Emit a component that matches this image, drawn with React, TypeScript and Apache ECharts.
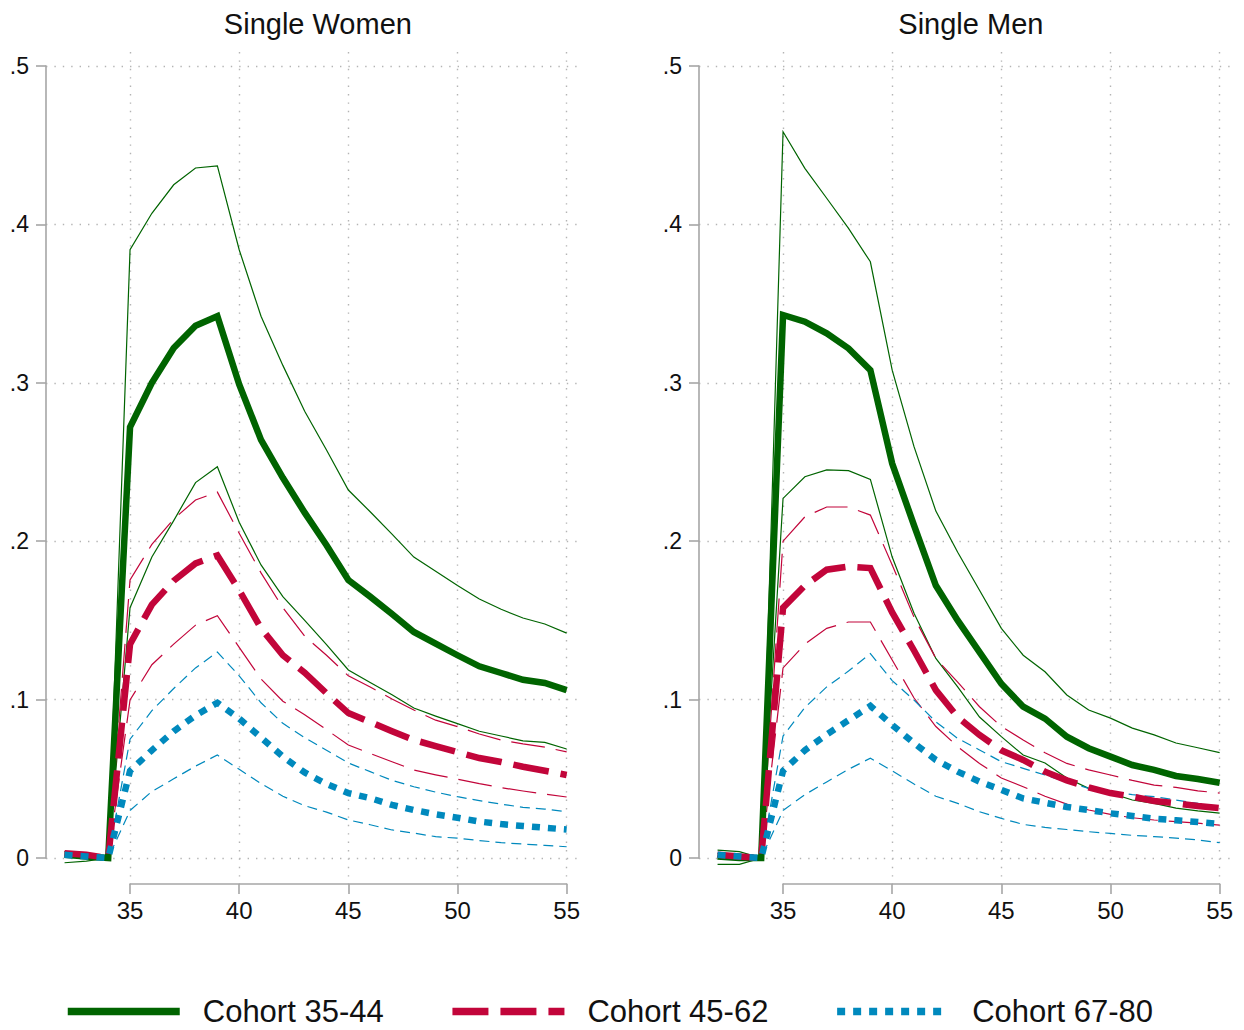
import React, { useEffect, useRef } from "react";
import * as echarts from "echarts";

const ages = [32, 33, 34, 35, 36, 37, 38, 39, 40, 41, 42, 43, 44, 45, 46, 47, 48, 49, 50, 51, 52, 53, 54, 55];
const panelTitles = ["Single Women", "Single Men"];
const cohortNames = ["Cohort 35-44", "Cohort 45-62", "Cohort 67-80"];

// Single Women
const gW = [0.002, 0.001, 0, 0.272, 0.300, 0.322, 0.336, 0.342, 0.299, 0.264, 0.240, 0.218, 0.1975, 0.1755, 0.165, 0.154, 0.1427, 0.1353, 0.128, 0.121, 0.1168, 0.1125, 0.1105, 0.106];
const gWhi = [0.004, 0.002, 0, 0.384, 0.407, 0.425, 0.4356, 0.437, 0.384, 0.342, 0.311, 0.282, 0.2576, 0.2323, 0.2186, 0.2045, 0.190, 0.181, 0.172, 0.1635, 0.157, 0.1515, 0.1477, 0.142];
const gWlo = [-0.003, -0.002, 0, 0.158, 0.19, 0.213, 0.237, 0.247, 0.212, 0.185, 0.165, 0.150, 0.1347, 0.1187, 0.1108, 0.103, 0.0947, 0.0896, 0.0848, 0.080, 0.077, 0.074, 0.073, 0.0688];
const rW = [0.003, 0.002, 0, 0.135, 0.160, 0.175, 0.186, 0.191, 0.169, 0.145, 0.128, 0.117, 0.104, 0.0915, 0.0858, 0.080, 0.0745, 0.0707, 0.0669, 0.0631, 0.0606, 0.0576, 0.0551, 0.0524];
const rWhi = [0.004, 0.003, 0, 0.1755, 0.198, 0.214, 0.226, 0.231, 0.205, 0.180, 0.158, 0.140, 0.128, 0.115, 0.108, 0.1004, 0.0934, 0.087, 0.0829, 0.0783, 0.0745, 0.072, 0.070, 0.067];
const rWlo = [0.002, 0.001, 0, 0.0998, 0.122, 0.135, 0.147, 0.153, 0.133, 0.113, 0.099, 0.0905, 0.081, 0.0713, 0.066, 0.0608, 0.0555, 0.0525, 0.0498, 0.0469, 0.0444, 0.0423, 0.0404, 0.0385];
const bW = [0.002, 0.001, 0, 0.055, 0.068, 0.080, 0.090, 0.098, 0.088, 0.076, 0.064, 0.054, 0.0467, 0.041, 0.0378, 0.0335, 0.0303, 0.0276, 0.0254, 0.023, 0.0214, 0.0202, 0.0191, 0.018];
const bWhi = [0.003, 0.002, 0, 0.075, 0.093, 0.107, 0.120, 0.130, 0.115, 0.098, 0.085, 0.076, 0.068, 0.060, 0.0545, 0.049, 0.045, 0.0416, 0.0387, 0.0362, 0.034, 0.032, 0.0309, 0.0292];
const bWlo = [0.001, 0.0, 0, 0.030, 0.042, 0.050, 0.058, 0.065, 0.056, 0.047, 0.039, 0.033, 0.029, 0.024, 0.021, 0.0177, 0.0157, 0.0135, 0.0125, 0.011, 0.0097, 0.0088, 0.008, 0.0071];

// Single Men
const gM = [0.001, 0.0, 0, 0.3428, 0.3386, 0.3312, 0.3217, 0.308, 0.249, 0.21, 0.172, 0.150, 0.130, 0.110, 0.0955, 0.088, 0.0766, 0.0693, 0.064, 0.0587, 0.0556, 0.0518, 0.0499, 0.0475];
const gMhi = [0.005, 0.004, 0, 0.4585, 0.4354, 0.4165, 0.3975, 0.3764, 0.308, 0.2597, 0.219, 0.193, 0.169, 0.145, 0.128, 0.1176, 0.1029, 0.0934, 0.0883, 0.082, 0.0777, 0.0726, 0.0696, 0.0665];
const gMlo = [-0.004, -0.004, 0, 0.227, 0.2407, 0.245, 0.2445, 0.239, 0.19, 0.1545, 0.126, 0.108, 0.089, 0.0766, 0.065, 0.060, 0.0505, 0.044, 0.041, 0.0366, 0.0345, 0.0315, 0.0297, 0.0283];
const rM = [0.002, 0.001, 0, 0.158, 0.172, 0.182, 0.184, 0.183, 0.155, 0.131, 0.106, 0.089, 0.0777, 0.068, 0.0619, 0.0545, 0.049, 0.0446, 0.041, 0.0387, 0.036, 0.0345, 0.0328, 0.0315];
const rMhi = [0.003, 0.002, 0, 0.200, 0.2154, 0.2216, 0.2216, 0.2165, 0.185, 0.152, 0.126, 0.111, 0.0955, 0.083, 0.0745, 0.0665, 0.0597, 0.0556, 0.0524, 0.049, 0.046, 0.0446, 0.0424, 0.041];
const rMlo = [0.001, 0.0, 0, 0.12, 0.135, 0.145, 0.149, 0.149, 0.125, 0.101, 0.083, 0.0703, 0.0597, 0.0505, 0.045, 0.039, 0.034, 0.0303, 0.0275, 0.0254, 0.024, 0.023, 0.022, 0.0208];
const bM = [0.002, 0.001, 0, 0.055, 0.068, 0.078, 0.087, 0.096, 0.084, 0.0725, 0.0619, 0.0545, 0.0482, 0.043, 0.0376, 0.0349, 0.0322, 0.0303, 0.0282, 0.0265, 0.0248, 0.0238, 0.0227, 0.0215];
const bMhi = [0.003, 0.002, 0, 0.077, 0.095, 0.108, 0.118, 0.129, 0.112, 0.0997, 0.086, 0.0755, 0.0682, 0.0608, 0.0566, 0.0524, 0.048, 0.044, 0.042, 0.040, 0.0387, 0.0366, 0.0345, 0.0324];
const bMlo = [0.001, 0.0, 0, 0.030, 0.040, 0.048, 0.056, 0.063, 0.055, 0.0467, 0.039, 0.0345, 0.0292, 0.025, 0.0212, 0.0193, 0.018, 0.0166, 0.0155, 0.0143, 0.0135, 0.0126, 0.0114, 0.0097];

const panels = [
  [[gW, gWhi, gWlo], [rW, rWhi, rWlo], [bW, bWhi, bWlo]],
  [[gM, gMhi, gMlo], [rM, rMhi, rMlo], [bM, bMhi, bMlo]],
];

const COLORS = ["#006400", "#c2053a", "#0089bd"];
const FONT = "'Liberation Sans', Arial, Helvetica, sans-serif";

export default function App() {
  const ref = useRef<HTMLDivElement>(null);

  useEffect(() => {
    document.body.style.margin = "0";
    if (!ref.current) return;
    const chart = echarts.init(ref.current, undefined, { renderer: "svg" });

    const X_MIN = 31.15, X_MAX = 55.6;
    const PX_YEAR = 21.83;
    const Y_MIN = -0.016, Y_MAX = 0.51;
    const PX_UNIT = 1584;
    const ZERO_Y = 858;
    const panelLeft = [46, 699];

    const grids: any[] = [];
    const xAxes: any[] = [];
    const yAxes: any[] = [];
    const series: any[] = [];
    const titles: any[] = [];

    const axisGray = "#a6a6a6";
    const gridLine = { show: true, lineStyle: { color: "#b4b4b4", width: 1.4, type: [1.4, 7] } };

    panelLeft.forEach((L, p) => {
      const dataW = (X_MAX - X_MIN) * PX_YEAR;
      const dataTop = ZERO_Y - Y_MAX * PX_UNIT;
      const dataH = (Y_MAX - Y_MIN) * PX_UNIT;
      const base = p * 3;
      // y-axis grid (0 .. .5)
      grids.push({ left: L, top: ZERO_Y - 0.5 * PX_UNIT, width: dataW, height: 0.5 * PX_UNIT, containLabel: false });
      xAxes.push({ gridIndex: base, type: "value", show: false, min: 0, max: 1 });
      yAxes.push({
        gridIndex: base, type: "value", min: 0, max: 0.5, interval: 0.1,
        axisLine: { show: true, lineStyle: { color: axisGray, width: 1.6 } },
        axisTick: { show: true, length: 10, lineStyle: { color: axisGray, width: 1.6 } },
        axisLabel: {
          margin: 17, fontSize: 23, color: "#111", fontFamily: FONT,
          formatter: (v: number) => {
            const s = Number(v.toFixed(1));
            return s === 0 ? "0" : String(s).replace(/^0/, "");
          },
        },
        splitLine: gridLine,
      });
      // x-axis grid (35 .. 55)
      const xLeft = L + (35 - X_MIN) * PX_YEAR;
      grids.push({ left: xLeft, top: 52, width: 20 * PX_YEAR, height: 884 - 52, containLabel: false });
      xAxes.push({
        gridIndex: base + 1, type: "value", min: 35, max: 55, interval: 5, position: "bottom",
        axisLine: { show: true, onZero: false, lineStyle: { color: axisGray, width: 1.6 } },
        axisTick: { show: true, length: 10, lineStyle: { color: axisGray, width: 1.6 } },
        axisLabel: { margin: 14, fontSize: 24, color: "#111", fontFamily: FONT },
        splitLine: gridLine,
      });
      yAxes.push({ gridIndex: base + 1, type: "value", show: false, min: 0, max: 1 });
      // data grid
      grids.push({ left: L, top: dataTop, width: dataW, height: dataH, containLabel: false });
      xAxes.push({ gridIndex: base + 2, type: "value", show: false, min: X_MIN, max: X_MAX });
      yAxes.push({ gridIndex: base + 2, type: "value", show: false, min: Y_MIN, max: Y_MAX });

      titles.push({
        text: panelTitles[p],
        left: L + dataW / 2,
        top: 4,
        textAlign: "center",
        textStyle: { fontSize: 29, fontWeight: "normal", color: "#111", fontFamily: FONT },
      });

      const cohorts = panels[p];
      const orderCenters: any[] = [];
      const orderCI: any[] = [];
      cohorts.forEach((trio, c) => {
        const [mid, hi, lo] = trio;
        const thickType = c === 0 ? "solid" : c === 1 ? [36, 12] : [8, 8];
        const thinType = c === 0 ? "solid" : c === 1 ? [34, 11] : [10, 6];
        const mk = (arr: number[], name: string, width: number, type: any, z: number) => ({
          type: "line",
          name,
          xAxisIndex: base + 2,
          yAxisIndex: base + 2,
          data: ages.map((a, i) => [a, arr[i]]),
          symbol: "none",
          silent: true,
          z,
          itemStyle: { color: COLORS[c] },
          lineStyle: { color: COLORS[c], width, type, cap: "butt", join: "miter" },
        });
        orderCenters.push(mk(mid, cohortNames[c], 6.5, thickType, 3 + c));
        orderCI.push(mk(hi, `ci-hi-${p}-${c}`, 1.2, thinType, 2));
        orderCI.push(mk(lo, `ci-lo-${p}-${c}`, 1.2, thinType, 2));
      });
      series.push(...orderCenters, ...orderCI);
    });

    chart.setOption({
      animation: false,
      backgroundColor: "#ffffff",
      title: titles,
      grid: grids,
      xAxis: xAxes,
      yAxis: yAxes,
      legend: {
        data: cohortNames,
        left: 64,
        top: 996,
        padding: 0,
        itemWidth: 112,
        itemHeight: 24,
        itemGap: 65,
        itemStyle: { opacity: 0 },
        lineStyle: { width: 7.5 },
        textStyle: { fontSize: 31, color: "#111", fontFamily: FONT, padding: [0, 0, 0, 18] },
        selectedMode: false,
      },
      series,
    });

    return () => chart.dispose();
  }, []);

  return <div ref={ref} style={{ width: 1244, height: 1030 }} />;
}
